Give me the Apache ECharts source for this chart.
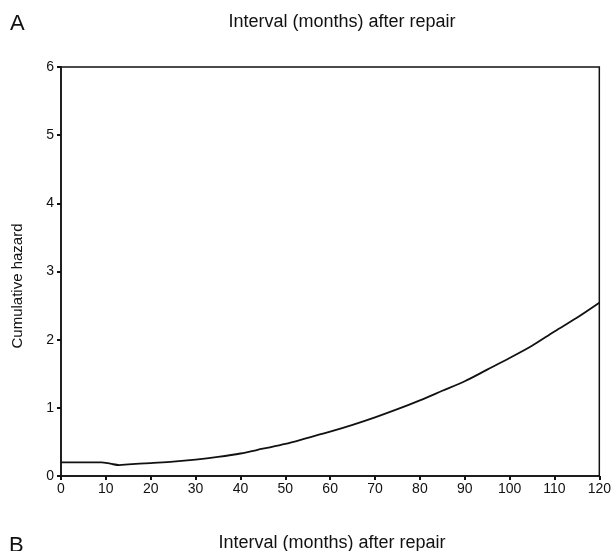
<!DOCTYPE html>
<html><head><meta charset="utf-8">
<script src="https://cdn.jsdelivr.net/npm/echarts@6/dist/echarts.min.js"></script>
<style>html,body{margin:0;padding:0;background:#fff}#c{width:614px;height:551px}</style>
</head><body><div id="c"></div>
<script>
const months = [0,5,9,11,13,15,20,25,30,35,40,45,50,55,60,65,70,75,80,85,90,95,100,105,110,115,120];
const hazard = [0.20,0.20,0.20,0.18,0.16,0.17,0.19,0.21,0.24,0.28,0.33,0.40,0.47,0.56,0.65,0.75,0.86,0.98,1.11,1.25,1.39,1.56,1.73,1.91,2.12,2.32,2.54];
const xTicks = [0,10,20,30,40,50,60,70,80,90,100,110,120];
const yTicks = [0,1,2,3,4,5,6];
const topTitle = 'Interval (months) after repair';
const bottomTitle = 'Interval (months) after repair';
const yName = 'Cumulative hazard';

const font = 'Liberation Sans, Arial, sans-serif';
const chart = echarts.init(document.getElementById('c'), null, {renderer:'canvas'});
chart.setOption({
  animation:false,
  backgroundColor:'#fff',
  title:[
    {text:'A', left:5, top:8, textStyle:{fontFamily:font, fontSize:22, fontWeight:'normal', color:'#111'}},
    {text:topTitle, left:337, top:8, textAlign:'center', textStyle:{fontFamily:font, fontSize:18, fontWeight:'normal', color:'#111'}},
    {text:'B', left:4, top:530, textStyle:{fontFamily:font, fontSize:22, fontWeight:'normal', color:'#111'}},
    {text:bottomTitle, left:327, top:529, textAlign:'center', textStyle:{fontFamily:font, fontSize:18, fontWeight:'normal', color:'#111'}}
  ],
  graphic:[{type:'text', x:18, y:286, rotation:Math.PI/2,
    style:{text:yName, fill:'#111', font:'15px Liberation Sans, Arial, sans-serif', textAlign:'center', textVerticalAlign:'middle'}}],
  grid:{left:61, right:13, top:67, bottom:75, show:true, borderColor:'#111', borderWidth:1.5, backgroundColor:'transparent'},
  xAxis:{type:'value', min:0, max:120, interval:10,
    axisLine:{show:true, lineStyle:{color:'#111', width:1.5}},
    axisTick:{show:true, length:4, inside:false, lineStyle:{color:'#111', width:2}},
    splitLine:{show:false},
    axisLabel:{color:'#111', fontFamily:font, fontSize:14, margin:6,
      formatter:v=>xTicks.includes(v)?String(v):''}
  },
  yAxis:{type:'value', min:0, max:6, interval:1,
    axisLine:{show:true, lineStyle:{color:'#111', width:1.5}},
    axisTick:{show:true, length:4, inside:false, lineStyle:{color:'#111', width:2}},
    splitLine:{show:false},
    axisLabel:{color:'#111', fontFamily:font, fontSize:14, margin:7,
      formatter:v=>yTicks.includes(v)?String(v):''}
  },
  series:[{type:'line', data:months.map((m,i)=>[m,hazard[i]]), smooth:0.3, showSymbol:false,
    lineStyle:{color:'#111', width:1.8}}]
});
</script></body></html>
